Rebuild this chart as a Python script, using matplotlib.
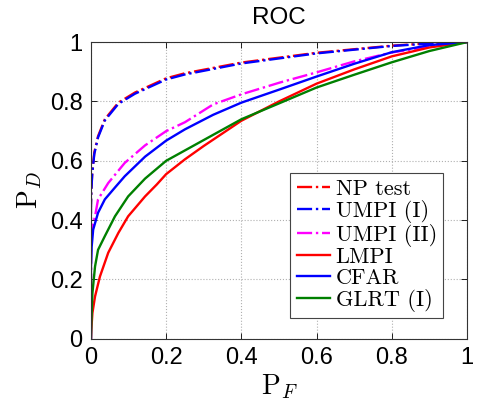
import matplotlib
matplotlib.use("Agg")
import matplotlib.pyplot as plt
from matplotlib.ticker import FuncFormatter

# ROC curves (P_F, P_D)
NP_PF = [0, 0, 0.001, 0.0035, 0.009, 0.019, 0.037, 0.073, 0.117, 0.2, 0.25, 0.4, 0.6, 0.8, 0.9, 1]
NP_PD = [0, 0.45, 0.5, 0.56, 0.628, 0.683, 0.74, 0.796, 0.83, 0.878, 0.895, 0.931, 0.964, 0.988, 0.996, 1]

UMPI1_PF = [0, 0, 0.001, 0.0035, 0.009, 0.019, 0.037, 0.073, 0.117, 0.2, 0.25, 0.4, 0.6, 0.8, 0.9, 1]
UMPI1_PD = [0, 0.44, 0.495, 0.555, 0.623, 0.679, 0.736, 0.792, 0.826, 0.874, 0.891, 0.928, 0.962, 0.987, 0.995, 1]

UMPI2_PF = [0, 0, 0.004, 0.011, 0.019, 0.046, 0.09, 0.144, 0.2, 0.25, 0.325, 0.4, 0.503, 0.6, 0.7, 0.8, 0.9, 1]
UMPI2_PD = [0, 0.33, 0.38, 0.413, 0.47, 0.525, 0.593, 0.652, 0.70, 0.73, 0.79, 0.824, 0.864, 0.898, 0.935, 0.965, 0.985, 1]

LMPI_PF = [0, 0.001, 0.004, 0.011, 0.024, 0.046, 0.073, 0.099, 0.144, 0.175, 0.2, 0.25, 0.3, 0.4, 0.5, 0.6, 0.7, 0.8, 0.9, 1]
LMPI_PD = [0, 0.03, 0.087, 0.143, 0.21, 0.29, 0.357, 0.413, 0.48, 0.52, 0.555, 0.605, 0.65, 0.735, 0.80, 0.86, 0.908, 0.952, 0.982, 1]

CFAR_PF = [0, 0, 0.002, 0.006, 0.019, 0.037, 0.064, 0.09, 0.144, 0.2, 0.25, 0.325, 0.4, 0.503, 0.6, 0.7, 0.8, 0.9, 1]
CFAR_PD = [0, 0.24, 0.31, 0.368, 0.425, 0.47, 0.51, 0.548, 0.614, 0.668, 0.706, 0.755, 0.796, 0.841, 0.884, 0.927, 0.966, 0.99, 1]

GLRT_PF = [0, 0.001, 0.004, 0.011, 0.019, 0.037, 0.064, 0.099, 0.144, 0.2, 0.25, 0.4, 0.503, 0.6, 0.7, 0.8, 0.9, 1]
GLRT_PD = [0, 0.05, 0.154, 0.244, 0.30, 0.346, 0.413, 0.48, 0.54, 0.60, 0.635, 0.74, 0.795, 0.847, 0.89, 0.932, 0.97, 1]

TICKS = [0, 0.2, 0.4, 0.6, 0.8, 1]

plt.rcParams.update({"mathtext.fontset": "cm", "font.family": "Liberation Sans"})

fig = plt.figure(figsize=(4.81, 4.01), dpi=100)
ax = fig.add_axes([0.189, 0.155, 0.782, 0.74])

lw = 1.7
ax.plot(NP_PF, NP_PD, color="#ff0000", ls="-.", lw=lw, label="NP test")
ax.plot(UMPI1_PF, UMPI1_PD, color="#0000ff", ls="-.", lw=lw, label="UMPI (I)")
ax.plot(UMPI2_PF, UMPI2_PD, color="#ff00ff", ls="-.", lw=lw, label="UMPI (II)")
ax.plot(LMPI_PF, LMPI_PD, color="#ff0000", ls="-", lw=lw, label="LMPI")
ax.plot(CFAR_PF, CFAR_PD, color="#0000ff", ls="-", lw=lw, label="CFAR")
ax.plot(GLRT_PF, GLRT_PD, color="#008000", ls="-", lw=lw, label="GLRT (I)")

ax.set_xlim(0, 1)
ax.set_ylim(0, 1)
ax.set_xticks(TICKS)
ax.set_yticks(TICKS)
fmt = FuncFormatter(lambda v, p: "%g" % v)
ax.xaxis.set_major_formatter(fmt)
ax.yaxis.set_major_formatter(fmt)
ax.tick_params(direction="in", length=4, width=0.6, labelsize=17, top=True, right=True, pad=6)
ax.grid(True, ls=":", color="#b0b0b0", lw=0.8)
for spine in ax.spines.values():
    spine.set_linewidth(0.8)
    spine.set_color("#333333")

ax.set_xlabel(r"$\mathrm{P}_F$", fontsize=20, labelpad=2)
ax.set_ylabel(r"$\mathrm{P}_D$", fontsize=20, labelpad=4)
ax.set_title("ROC", fontsize=17.5, pad=13)

leg = ax.legend(loc="lower right", bbox_to_anchor=(0.936, 0.071), borderaxespad=0,
                prop={"family": "cmr10", "size": 16},
                handlelength=1.5, handletextpad=0.25, labelspacing=0.04, borderpad=0.28,
                fancybox=False, framealpha=1, edgecolor="#444444")
leg.get_frame().set_linewidth(0.8)

fig.savefig("out.png", dpi=100)
